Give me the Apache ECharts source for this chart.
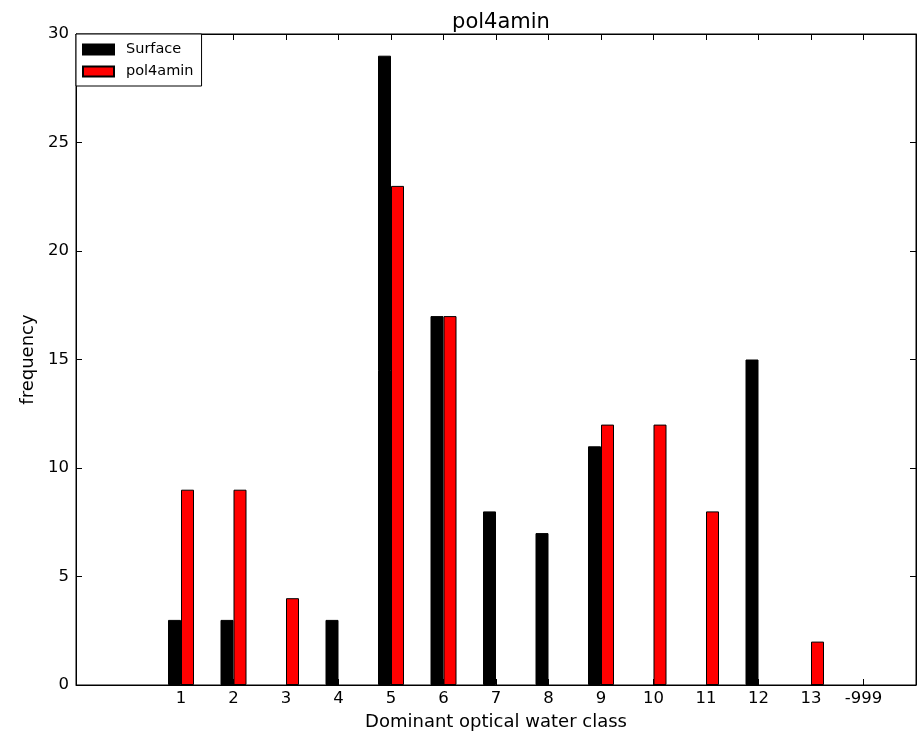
<!DOCTYPE html>
<html>
<head>
<meta charset="utf-8">
<script src="https://cdn.jsdelivr.net/npm/echarts@6/dist/echarts.min.js"></script>
<style>html,body{margin:0;padding:0;background:#fff}#c{width:920px;height:736px}</style>
</head>
<body>
<div id="c"></div>
<script>
const categories = ['1','2','3','4','5','6','7','8','9','10','11','12','13','-999'];
const surface = [3,3,0,3,29,17,8,7,11,0,0,15,0,0];
const pol4amin = [9,9,4,0,23,17,0,0,12,12,8,0,2,0];
const yTicks = [0,5,10,15,20,25,30];

const positions = categories.map((c, i) => i + 1);
const font = 'DejaVu Sans';
const chart = echarts.init(document.getElementById('c'));
const tickStyle = {show: true, inside: true, length: 6, lineStyle: {color: '#000', width: 1}};
const lineStyle = {show: true, onZero: false, lineStyle: {color: '#000', width: 1}};
chart.setOption({
  animation: false,
  backgroundColor: '#fff',
  title: {text: 'pol4amin', left: 496, top: 7, textAlign: 'center',
    textStyle: {fontFamily: font, fontSize: 21, fontWeight: 'normal', color: '#000'}},
  legend: {
    left: 76, top: 34, orient: 'vertical', itemWidth: 31, itemHeight: 10, itemGap: 7,
    padding: [8, 8, 7, 6], borderColor: '#000', borderWidth: 1, backgroundColor: '#fff', borderRadius: 0,
    icon: 'rect',
    textStyle: {fontFamily: font, fontSize: 14.5, color: '#000', lineHeight: 12, padding: [0, 0, 0, 7]},
    data: ['Surface', 'pol4amin']
  },
  grid: {left: 76, right: 4, top: 34, bottom: 50, show: true, borderColor: '#000', borderWidth: 1, containLabel: false},
  xAxis: [{
    type: 'value', min: -1, max: 15, interval: 1,
    name: 'Dominant optical water class', nameLocation: 'middle', nameGap: 28,
    nameTextStyle: {fontFamily: font, fontSize: 18, color: '#000'},
    axisLine: lineStyle,
    axisTick: Object.assign({customValues: positions}, tickStyle),
    axisLabel: {customValues: positions, fontFamily: font, fontSize: 16.5, color: '#000', margin: 5,
      formatter: v => categories[Math.round(v) - 1] || ''},
    splitLine: {show: false}
  }, {
    type: 'value', min: -1, max: 15, interval: 1, position: 'top',
    axisLine: lineStyle,
    axisTick: Object.assign({customValues: positions}, tickStyle),
    axisLabel: {show: false}, splitLine: {show: false}
  }],
  yAxis: [{
    type: 'value', min: 0, max: 30, interval: 5,
    name: 'frequency', nameLocation: 'middle', nameGap: 35,
    nameTextStyle: {fontFamily: font, fontSize: 18, color: '#000'},
    axisLine: lineStyle,
    axisTick: Object.assign({customValues: yTicks}, tickStyle),
    axisLabel: {customValues: yTicks, fontFamily: font, fontSize: 16.5, color: '#000', margin: 7},
    splitLine: {show: false}
  }, {
    type: 'value', min: 0, max: 30, interval: 5, position: 'right',
    axisLine: lineStyle,
    axisTick: Object.assign({customValues: yTicks}, tickStyle),
    axisLabel: {show: false}, splitLine: {show: false}
  }],
  series: [{
    name: 'Surface', type: 'bar', barWidth: 13, barGap: '0%',
    itemStyle: {color: '#000', borderColor: '#000', borderWidth: 1},
    data: positions.map((p, i) => [p, surface[i] === 0 ? '-' : surface[i]])
  }, {
    name: 'pol4amin', type: 'bar', barWidth: 13, barGap: '0%',
    itemStyle: {color: '#ff0000', borderColor: '#000', borderWidth: 1},
    data: positions.map((p, i) => [p, pol4amin[i] === 0 ? '-' : pol4amin[i]])
  }]
});
</script>
</body>
</html>
